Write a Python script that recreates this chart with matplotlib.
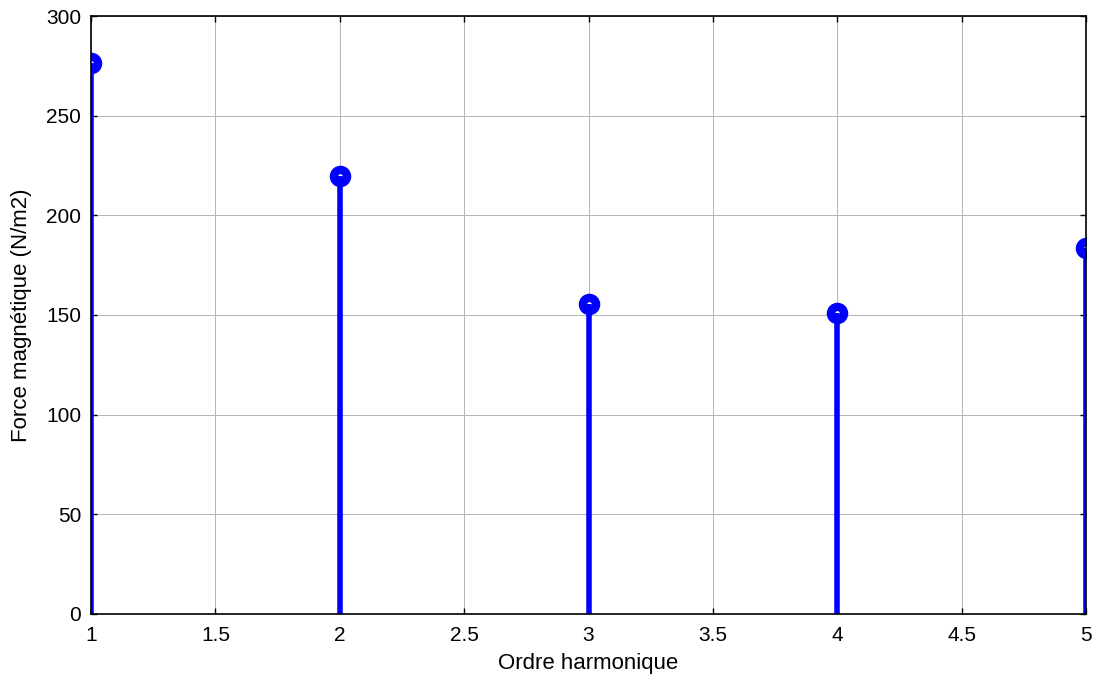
import matplotlib
matplotlib.use("Agg")
import matplotlib.pyplot as plt

plt.rcParams['font.family'] = ['Liberation Sans', 'DejaVu Sans']

orders = [1, 2, 3, 4, 5]
force = [276.5, 220.0, 155.5, 151.0, 183.5]
xticks = [1, 1.5, 2, 2.5, 3, 3.5, 4, 4.5, 5]
xticklabels = ['1', '1.5', '2', '2.5', '3', '3.5', '4', '4.5', '5']
yticks = [0, 50, 100, 150, 200, 250, 300]

fig = plt.figure(figsize=(10.97, 6.81), dpi=100)
ax = fig.add_axes([0.083, 0.099, 0.907, 0.877])

ax.grid(True, color='#b4b4b4', linewidth=0.7, linestyle='-')
ax.set_axisbelow(True)

markers, stems, base = ax.stem(orders, force, basefmt=' ')
plt.setp(stems, color='#0000ff', linewidth=4, zorder=4)
plt.setp(markers, marker='o', markersize=9.5, markerfacecolor='white',
         markeredgecolor='#0000ff', markeredgewidth=6, zorder=3)

ax.set_xlim(1, 5)
ax.set_ylim(0, 300)
ax.set_xticks(xticks)
ax.set_xticklabels(xticklabels)
ax.set_yticks(yticks)
ax.tick_params(axis='x', pad=9)
ax.tick_params(axis='y', pad=7)
ax.tick_params(direction='in', top=True, right=True, labelsize=15, length=4,
               width=1)
for s in ax.spines.values():
    s.set_linewidth(1.2)
    s.set_zorder(5)

ax.set_xlabel('Ordre harmonique', fontsize=16, labelpad=6)
ax.set_ylabel('Force magnétique (N/m2)', fontsize=16, labelpad=10)

fig.savefig('out.png', dpi=100)
